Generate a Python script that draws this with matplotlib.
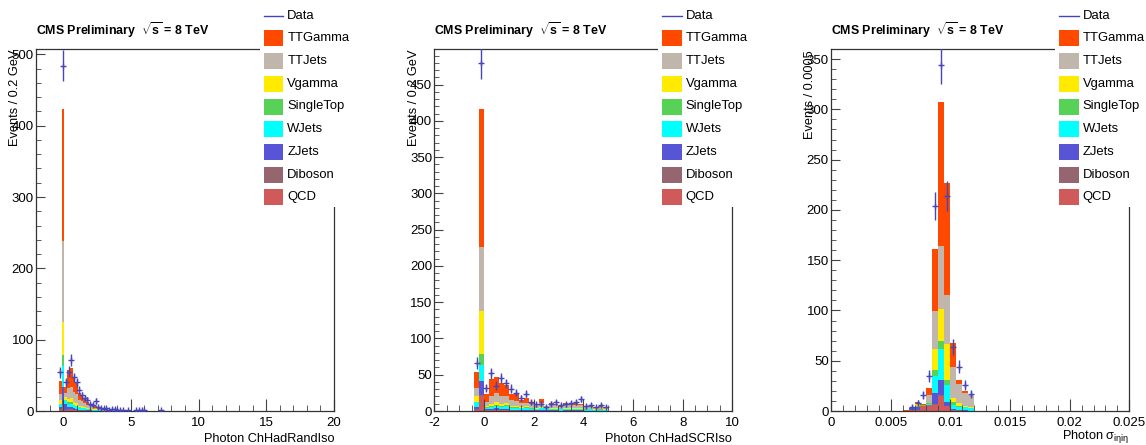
import numpy as np
import matplotlib
matplotlib.use('Agg')
import matplotlib.pyplot as plt
from matplotlib.patches import Rectangle
from matplotlib.lines import Line2D
from matplotlib.ticker import MultipleLocator, FuncFormatter

plt.rcParams['font.family'] = ['Liberation Sans', 'DejaVu Sans']
plt.rcParams['mathtext.fontset'] = 'custom'
plt.rcParams['mathtext.rm'] = 'Liberation Sans'
plt.rcParams['mathtext.it'] = 'Liberation Sans'
plt.rcParams['mathtext.bf'] = 'Liberation Sans:bold'
plt.rcParams['axes.unicode_minus'] = False

W, H = 1146, 445

# stack order bottom -> top
samples = ['QCD', 'Diboson', 'ZJets', 'WJets', 'SingleTop', 'Vgamma', 'TTJets', 'TTGamma']
sample_colors = ['#d05a5a', '#966670', '#5854d6', '#00ffff', '#57d257', '#ffeb00', '#c0b6ac', '#ff4800']
data_color = '#4646b8'

# --- Photon ChHadRandIso, 0.2 GeV bins starting at -0.3 ---
rand_start, rand_width = -0.3, 0.2
rand_qcd = [2, 4, 1, 1.5, 1.5, 1, 1, 0.5, 0.5, 0.5, 0.3, 0.3, 0.2, 0.2, 0.1, 0.1, 0.1, 0.1,
            0, 0, 0, 0, 0, 0, 0, 0, 0]
rand_diboson = [1, 4, 1, 1, 1, 1, 0.5, 0.5, 0.5, 0.3, 0.2, 0.2, 0.1, 0.1, 0.1, 0.1, 0, 0,
                0, 0, 0, 0, 0, 0, 0, 0, 0]
rand_zjets = [3, 25, 8, 3, 3, 2, 2, 1, 1, 1, 0.5, 0.5, 0.3, 0.3, 0.2, 0.2, 0.1, 0.1,
              0.1, 0.1, 0.1, 0, 0, 0, 0, 0, 0]
rand_wjets = [4, 30, 5, 5, 5, 4, 3, 3, 2, 2, 1.5, 1, 1, 0.8, 0.6, 0.4, 0.3, 0.3,
              0.2, 0.2, 0.1, 0.1, 0.1, 0.1, 0, 0, 0]
rand_singletop = [0.5, 15, 1, 1.5, 1.5, 1, 1, 0.5, 0.5, 0.5, 0.3, 0.3, 0.2, 0.2, 0.1, 0.1, 0.1, 0.1,
                  0, 0, 0, 0, 0, 0, 0, 0, 0]
rand_vgamma = [5, 47, 3, 5, 6, 4, 4, 2, 2, 1.5, 1, 1, 0.7, 0.6, 0.4, 0.3, 0.2, 0.2,
               0.1, 0.1, 0.1, 0.1, 0.1, 0, 0.1, 0, 0]
rand_ttjets = [9, 114, 6, 15, 16, 13, 12, 8, 7, 6, 4, 3.5, 3, 2.5, 1.8, 1.4, 1.1, 1.0,
               0.7, 0.6, 0.5, 0.5, 0.3, 0.3, 0.3, 0.3, 0.2]
rand_ttgamma = [17.5, 185, 8, 26, 26, 22, 16.5, 9.5, 7.5, 6.2, 4.2, 3.2, 2.5, 2.3, 1.7, 1.4, 1.1, 1.2,
                0.9, 1.0, 0.7, 0.8, 0.5, 0.6, 0.5, 0.5, 0.3]
rand_data = [54, 484, 40, 55, 72, 47, 40, 30, 22, 18, 16, 10, 9, 14, 6, 4, 3, 4, 2, 3,
             3, 1, 1, 2, 0, 1, 0, 0, 1, 2, 1, 1, 0, 0, 0, 0, 0, 1]

# --- Photon ChHadSCRIso, 0.2 GeV bins starting at -0.4 ---
scr_start, scr_width = -0.4, 0.2
scr_qcd = [2, 20, 1, 1, 1, 1, 1, 0.5, 0.5, 0.3, 0.3, 0.2, 0.2, 0.3, 0.2, 0.2, 0.2, 0.1,
           0.2, 0.2, 0.2, 0.2, 0.1, 0.1, 0.1, 0.1, 0.1]
scr_diboson = [1, 2, 0.5, 0.5, 0.5, 0.5, 0.5, 0.3, 0.3, 0.2, 0.2, 0.2, 0.2, 0.2, 0.1, 0.1, 0.1, 0.1,
               0.1, 0.1, 0.1, 0.1, 0.1, 0.1, 0.1, 0.1, 0.1]
scr_zjets = [3, 19, 1, 1.5, 2, 1.5, 1.5, 1, 1, 1, 1, 0.8, 0.5, 1, 0.5, 0.5, 0.5, 0.4,
             0.5, 0.5, 0.5, 0.5, 0.3, 0.4, 0.3, 0.3, 0.3]
scr_wjets = [6, 23, 2, 3, 4, 3, 4, 3, 3, 2, 3, 2, 1.5, 2.5, 1.5, 2, 2, 1.5,
             2, 2, 2, 2, 1.5, 1.5, 1.2, 1.5, 1.2]
scr_singletop = [1, 14, 0.5, 1, 1, 1, 1, 0.7, 0.7, 0.5, 0.5, 0.3, 0.3, 0.5, 0.2, 0.3, 0.3, 0.2,
                 0.3, 0.3, 0.3, 0.3, 0.2, 0.2, 0.2, 0.2, 0.2]
scr_vgamma = [7, 60, 2, 3, 4, 3, 3, 2, 2, 1.5, 1.5, 1, 1, 1.5, 0.8, 1.5, 1, 0.8,
              1.2, 1, 1.2, 1, 0.6, 0.8, 0.5, 0.6, 0.5]
scr_ttjets = [12, 88, 6, 10, 12, 10, 9, 7, 6, 5, 5, 4.5, 4, 5, 3, 4.5, 4, 3,
              4.5, 4, 4.5, 4, 2.5, 3, 2.2, 2.5, 2.2]
scr_ttgamma = [22, 190, 10, 24, 22.5, 18, 16, 8.5, 9.5, 4, 6.5, 3, 2.3, 5, 1.2, 1.9, 1.9, 1.4,
               2.2, 1.9, 2.2, 1.9, 1.2, 1.4, 1, 1.2, 1]
scr_data = [66, 480, 32, 52, 35, 45, 38, 31, 25, 18, 24, 12, 9, 10, 6, 10, 12, 8,
            9, 11, 12, 16, 7, 8, 5, 8, 6]

# --- Photon sigma_ietaieta, 0.0005 bins starting at 0.006 ---
sie_start, sie_width = 0.006, 0.0005
sie_qcd = [0, 0.5, 1, 4.5, 5.5, 6, 15, 4.5, 0.5, 0.3, 0.2, 0.1]
sie_diboson = [0, 0.2, 0.2, 0.2, 0.3, 0.5, 1, 0.8, 0.3, 0.2, 0.1, 0]
sie_zjets = [0, 2, 2.5, 0.3, 0.2, 11.5, 15, 4, 1.2, 0.5, 0.2, 0.2]
sie_wjets = [0, 0.2, 0.5, 0.2, 0.5, 16.5, 30.5, 16.6, 4.3, 3.3, 3.5, 2.8]
sie_singletop = [0, 0.1, 0.5, 0.3, 1.2, 6.5, 8.6, 5, 3, 0.5, 0.2, 0.3]
sie_vgamma = [0, 0.5, 2.5, 0.2, 0.3, 20.5, 31.6, 35.8, 3.5, 3, 0.5, 0.3]
sie_ttjets = [0.2, 0.3, 0.8, 0.3, 7.5, 38, 62, 48.8, 31, 19, 13.5, 11.8]
sie_ttgamma = [0.8, 0.5, 1.3, 1, 7, 61.5, 144, 111.5, 24, 4.5, 1.8, 0.5]
sie_data = [0, 4, 8, 16, 35, 204, 344, 214, 64, 44, 26, 17]

legend_labels = ['TTGamma', 'TTJets', 'Vgamma', 'SingleTop', 'WJets', 'ZJets', 'Diboson', 'QCD']


def fx(px):
    return px / W


def fy(py):
    return 1 - py / H


def draw_panel(fig, left_px, right_px, start, width, stacks, data, xlim, ylim,
               xmaj, xmin, ymaj, ymin, xlabel, ylabel, ylabel_x, xlabel_base, xfmt=None):
    top_px, bot_px = 49, 411
    ax = fig.add_axes([fx(left_px), fy(bot_px), (right_px - left_px) / W, (bot_px - top_px) / H])
    n = len(stacks[0])
    edges = start + width * np.arange(n + 1)
    bottom = np.zeros(n)
    for vals, c in zip(stacks, sample_colors):
        vals = np.asarray(vals, float)
        ax.stairs(bottom + vals, edges, baseline=bottom.copy(), fill=True, color=c, lw=0)
        bottom = bottom + vals

    d = np.asarray(data, float)
    centers = start + width * (np.arange(len(d)) + 0.5)
    m = d > 0
    ax.errorbar(centers[m], d[m], yerr=np.sqrt(d[m]), fmt='none', ecolor=data_color, elinewidth=1, zorder=4)
    ax.plot(centers[m], d[m], '+', color=data_color, ms=5, mew=1, zorder=4)

    ax.set_xlim(*xlim)
    ax.set_ylim(*ylim)
    ax.xaxis.set_major_locator(MultipleLocator(xmaj))
    ax.xaxis.set_minor_locator(MultipleLocator(xmin))
    ax.yaxis.set_major_locator(MultipleLocator(ymaj))
    ax.yaxis.set_minor_locator(MultipleLocator(ymin))
    if xfmt is not None:
        ax.xaxis.set_major_formatter(FuncFormatter(xfmt))
    for s in ax.spines.values():
        s.set_color('#333333')
        s.set_linewidth(0.9)
    ax.tick_params(which='both', direction='in', top=False, right=False, labelsize=9.5, color='#444444')
    ax.tick_params(axis='x', which='major', length=8.6, pad=4.5)
    ax.tick_params(axis='x', which='minor', length=4.3)
    ax.tick_params(axis='y', which='major', length=6.5, pad=1.5)
    ax.tick_params(axis='y', which='minor', length=3.4)

    # ROOT-style titles
    fig.text(fx(left_px), fy(35.3), r'CMS Preliminary  $\mathbf{\sqrt{s}}$ = 8 TeV',
             fontsize=8.9, fontweight='bold', ha='left', va='baseline')
    fig.text(fx(ylabel_x), fy(50), ylabel, rotation=90, fontsize=9.2, ha='center', va='top')
    fig.text(fx(right_px), fy(xlabel_base), xlabel, fontsize=9.2, ha='right', va='baseline')

    # legend box
    x0 = right_px - 74
    fig.add_artist(Rectangle((fx(x0), fy(207)), 107 / W, 207 / H, transform=fig.transFigure,
                             facecolor='white', edgecolor='none', zorder=10))
    bx0, bx1 = right_px - 70, right_px - 50.7
    ys = [15.7 + 22.7 * i for i in range(9)]
    fig.add_artist(Line2D([fx(bx0), fx(bx1)], [fy(ys[0]), fy(ys[0])], transform=fig.transFigure,
                          color=data_color, lw=1, zorder=11))
    fig.text(fx(right_px - 46.7), fy(ys[0]), 'Data', fontsize=9.4, ha='left', va='center', zorder=12)
    for lab, y in zip(legend_labels, ys[1:]):
        c = sample_colors[samples.index(lab)]
        fig.add_artist(Rectangle((fx(bx0), fy(y + 8)), (bx1 - bx0) / W, 16 / H, transform=fig.transFigure,
                                 facecolor=c, edgecolor='none', zorder=11))
        fig.text(fx(right_px - 46.7), fy(y), lab, fontsize=9.4, ha='left', va='center', zorder=12)
    return ax


fig = plt.figure(figsize=(W / 100, H / 100), dpi=100)

draw_panel(fig, 36, 334, rand_start, rand_width,
           [rand_qcd, rand_diboson, rand_zjets, rand_wjets, rand_singletop, rand_vgamma, rand_ttjets, rand_ttgamma],
           rand_data, (-2, 20), (0, 507.5), 5, 1, 100, 20,
           'Photon ChHadRandIso', 'Events / 0.2 GeV', 15.3, 441.7)

draw_panel(fig, 434.3, 732.3, scr_start, scr_width,
           [scr_qcd, scr_diboson, scr_zjets, scr_wjets, scr_singletop, scr_vgamma, scr_ttjets, scr_ttgamma],
           scr_data, (-2, 10), (0, 499), 2, 0.5, 50, 10,
           'Photon ChHadSCRIso', 'Events / 0.2 GeV', 413.7, 441.7)

draw_panel(fig, 831, 1129.3, sie_start, sie_width,
           [sie_qcd, sie_diboson, sie_zjets, sie_wjets, sie_singletop, sie_vgamma, sie_ttjets, sie_ttgamma],
           sie_data, (0, 0.025), (0, 360), 0.005, 0.001, 50, 10,
           r'Photon $\sigma_{i\eta i\eta}$', 'Events / 0.0005', 810.3, 439.3,
           xfmt=lambda v, p: f'{v:g}')

fig.savefig('out.png', dpi=100)
